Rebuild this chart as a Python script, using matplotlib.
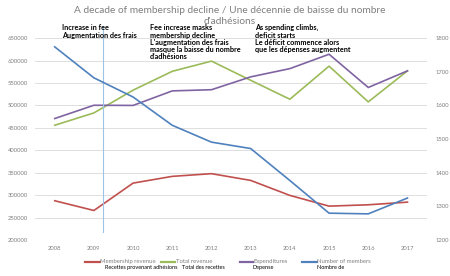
import matplotlib
matplotlib.use("Agg")
import matplotlib.pyplot as plt
from matplotlib.lines import Line2D

years = [2008, 2009, 2010, 2011, 2012, 2013, 2014, 2015, 2016, 2017]
membership_revenue = [287700, 266000, 327000, 342000, 348000, 333000, 299600, 275700, 278700, 284600]
total_revenue = [455800, 483300, 534000, 576000, 598700, 556000, 513800, 587500, 507900, 577000]
expenditures = [470800, 500400, 500000, 532400, 535000, 563600, 582000, 614000, 540000, 577000]
members = [1774, 1682, 1625, 1541, 1491, 1472, 1377, 1280, 1278, 1325]

labels_en = ["Membership revenue", "Total revenue", "Expenditures", "Number of members"]
labels_fr = ["Recettes provenant adhésions", "Total des recettes", "Depense", "Nombre de"]
title = "A decade of membership decline / Une décennie de baisse du nombre\nd'adhésions"
ann1 = "Increase in fee\nAugmentation des frais"
ann2 = "Fee increase masks\nmembership decline\nL'augmentation des frais\nmasque la baisse du nombre\nd'adhésions"
ann3 = "As spending climbs,\ndeficit starts\nLe déficit commence alors\nque les dépenses augmentent"
fee_year = 2009.23

colors = ["#C0504D", "#9BBB59", "#8064A2", "#4F81BD"]
plt.rcParams['font.family'] = ['Lato', 'DejaVu Sans']

W, H = 450, 276
fig = plt.figure(figsize=(4.5, 2.76), dpi=100)
ax = fig.add_axes([0.078, 0.130, 0.871, 0.732])
ax2 = ax.twinx()

l1, = ax.plot(years, membership_revenue, color=colors[0], lw=1.2)
l2, = ax.plot(years, total_revenue, color=colors[1], lw=1.2)
l3, = ax.plot(years, expenditures, color=colors[2], lw=1.2)
l4, = ax2.plot(years, members, color=colors[3], lw=1.2)
lines = [l1, l2, l3, l4]

ax.set_ylim(200000, 650000)
ax.set_yticks(range(200000, 650001, 50000))
ax2.set_ylim(1200, 1800)
ax2.set_yticks(range(1200, 1801, 100))
ax.set_xlim(2007.5, 2017.5)
ax.set_xticks(years)

ax.grid(axis='y', color='#d9d9d9', lw=0.6)
ax.set_axisbelow(True)
for a in (ax, ax2):
    for s in a.spines.values():
        s.set_visible(False)
    a.tick_params(length=0, labelsize=4.2, colors='#7f7f7f')
ax.tick_params(axis='y', pad=5)
ax2.tick_params(axis='y', pad=6)
ax.tick_params(axis='x', pad=4.5)

ax.axvline(fee_year, ymin=0.04, ymax=1.06, color='#9DC3E6', lw=0.8, clip_on=False)

fig.text(0.51, 0.978, title, ha='center', va='top', fontsize=7.3, color='#7f7f7f',
         linespacing=1.25)

kw = dict(ha='left', va='top', fontsize=5.2, color='black', linespacing=1.05, fontweight='bold')
fig.text(0.138, 0.912, ann1, **kw)
fig.text(0.333, 0.912, ann2, **kw)
fig.text(0.567, 0.912, ann3, **kw)

# legend (manual layout, pixel positions converted to figure fraction)
handle_x = [(85, 100), (161, 175), (240, 253), (302, 316.5)]
fr_x = [105, 182, 253, 317]
y_en = 1 - 261.5 / H
y_fr = 1 - 267.5 / H
for ln, (x0, x1), en, fx, fr in zip(lines, handle_x, labels_en, fr_x, labels_fr):
    fig.add_artist(Line2D([x0 / W, x1 / W], [y_en, y_en], color=ln.get_color(),
                          lw=1.6, transform=fig.transFigure))
    fig.text((x1 + 0.5) / W, y_en, en, ha='left', va='center', fontsize=4.3, color='#7f7f7f')
    fig.text(fx / W, y_fr, fr, ha='left', va='center', fontsize=3.95, color='black')

fig.savefig("out.png", dpi=100)
